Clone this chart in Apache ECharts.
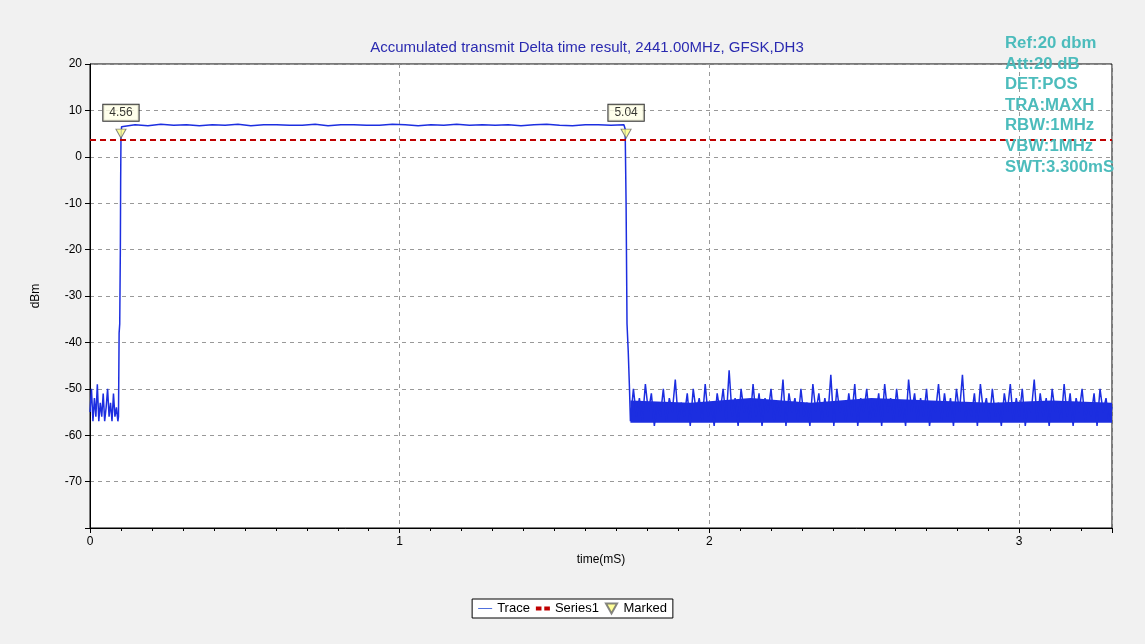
<!DOCTYPE html><html><head><meta charset="utf-8">
<script src="https://cdn.jsdelivr.net/npm/echarts@6/dist/echarts.min.js"></script>
<style>html,body{margin:0;background:#f1f1f1}#c{width:1145px;height:644px}</style></head><body><div id="c"></div>
<script>
const leftNoise=[-55,-50,-57,-52,-56,-49,-57,-53,-56,-51,-57,-54,-50,-56,-53,-57,-51,-56,-54,-57];
const rise=[[0.092,-56],[0.094,-38],[0.096,-36],[0.098,-20],[0.099,-5],[0.1,4],[0.102,6.5]];
const topVals=[6.8,6.9,6.7,7.0,6.8,6.9,6.7,6.9,6.8,7.0,6.7,6.9,6.9,6.8,6.8,7.0,6.7,6.9,6.9,6.8,6.8,7.0,6.9,6.7,6.9,6.8,7.0,6.8,6.9,6.8,6.9,6.7,6.9,7.0,6.8,6.7,6.9,6.9,6.8,6.9];
const fall=[[1.728,6],[1.731,-10],[1.734,-36],[1.738,-42],[1.742,-50]];
const rightNoise=[-57,-50,-56,-52,-57,-49,-55,-51,-58,-53,-56,-50,-57,-52,-55,-48,-57,-53,-56,-51,-58,-50,-55,-52,-57,-49,-56,-53,-58,-51,-55,-50,-57,-46,-56,-52,-58,-50,-55,-53,-57,-49,-56,-51,-58,-52,-55,-50,-57,-53,-56,-48,-58,-51,-55,-52,-57,-50,-56,-53,-58,-49,-55,-51,-57,-52,-56,-47,-58,-50,-55,-53,-57,-51,-56,-49,-58,-52,-55,-50,-57,-53,-56,-51,-58,-49,-55,-52,-57,-50,-56,-53,-58,-48,-55,-51,-57,-52,-56,-50,-58,-53,-55,-49,-57,-51,-56,-52,-58,-50,-55,-47,-57,-53,-56,-51,-58,-49,-55,-52,-57,-50,-56,-53,-58,-51,-55,-49,-57,-52,-56,-50,-58,-53,-55,-48,-57,-51,-56,-52,-58,-50,-55,-53,-57,-49,-56,-51,-58,-52,-55,-50,-57,-53,-56,-51,-58,-50,-55,-52,-57,-54];
const bandFloor=-57.3;
const bandHigh=[-52.5,-53,-52,-53,-52,-52.5,-53,-52.5,-53];
const refLevel=3.6;
const marks=[[0.1,5,'4.56'],[1.731,5,'5.04']];
const xTicks=[0,1,2,3];
const yTicks=[20,10,0,-10,-20,-30,-40,-50,-60,-70];
const infoLines=['Ref:20 dbm','Att:20 dB','DET:POS','TRA:MAXH','RBW:1MHz','VBW:1MHz','SWT:3.300mS'];

const trace=[];
leftNoise.forEach((v,i)=>trace.push([i*0.09/(leftNoise.length-1),v]));
rise.forEach(p=>trace.push(p));
topVals.forEach((v,i)=>trace.push([0.104+i*(1.724-0.104)/(topVals.length-1),v]));
fall.forEach(p=>trace.push(p));
rightNoise.forEach((v,i)=>trace.push([1.745+i*(3.3-1.745)/(rightNoise.length-1),v]));
const bandData=bandHigh.map((v,i)=>[1.745+i*(3.3-1.745)/(bandHigh.length-1),v]);

const ch=echarts.init(document.getElementById('c'));
ch.setOption({
  animation:false,
  title:{text:'Accumulated transmit Delta time result, 2441.00MHz, GFSK,DH3',left:582,top:35,textAlign:'center',
    textStyle:{color:'#2a2ab0',fontSize:15,fontWeight:'normal',fontFamily:'Arial'}},
  graphic:[{type:'text',left:1005,top:33,style:{text:infoLines.join('\n'),fill:'#4cbcbc',font:'bold 16.8px Arial',lineHeight:20.6},z:100}],
  grid:{left:90,right:33,top:64,bottom:116,show:true,borderColor:'#000',borderWidth:1,backgroundColor:'#fff'},
  legend:{bottom:26,left:'center',itemGap:6,padding:[3,6],borderColor:'#000',borderWidth:1,backgroundColor:'#fff',
    textStyle:{fontSize:13,color:'#000',fontFamily:'Arial'},itemWidth:14,itemHeight:10,
    data:[{name:'Trace',icon:'path://M0,5L14,5L14,6L0,6Z'},{name:'Series1',icon:'path://M0,4L4,4L4,7L0,7ZM6,4L10,4L10,7L6,7Z'},{name:'Marked',icon:'path://M0,0L10,0L5,9Z'}]},
  xAxis:{type:'value',min:0,max:3.3,interval:1,name:'time(mS)',nameLocation:'middle',nameGap:26,
    nameTextStyle:{fontSize:12,color:'#000'},axisLine:{onZero:false,lineStyle:{color:'#000'}},axisTick:{show:true,length:5},
    minorTick:{show:true,splitNumber:10,length:3},axisLabel:{color:'#000',fontSize:12,formatter:v=>xTicks.includes(v)?v:''},
    splitLine:{lineStyle:{color:'#999',type:[4,4]}}},
  yAxis:{type:'value',min:-80,max:20,interval:10,name:'dBm',nameLocation:'middle',nameGap:48,
    nameTextStyle:{fontSize:12,color:'#000'},axisLine:{show:true,onZero:false,lineStyle:{color:'#000'}},axisTick:{show:true,length:5},
    axisLabel:{color:'#000',fontSize:12,formatter:v=>yTicks.includes(v)?v:''},
    splitLine:{lineStyle:{color:'#999',type:[4,4]}}},
  series:[
    {name:'Trace',type:'line',data:bandData,showSymbol:false,lineStyle:{width:0},areaStyle:{color:'#1c2ee0',opacity:1,origin:bandFloor},silent:true},
    {name:'Trace',type:'line',data:trace,showSymbol:false,lineStyle:{color:'#1c2ee0',width:1.5},itemStyle:{color:'#1c2ee0'}},
    {name:'Series1',type:'line',data:[[0,refLevel],[3.3,refLevel]],showSymbol:false,lineStyle:{color:'#c00000',width:2,type:[6,4]},itemStyle:{color:'#c00000'}},
    {name:'Marked',type:'scatter',data:marks.map(m=>({value:[m[0],m[1]],label:{formatter:m[2]}})),symbol:'path://M0,0L10,0L5,9Z',symbolSize:[10,9],
      itemStyle:{color:'#ffff80',borderColor:'#666',borderWidth:1},
      label:{show:true,position:'top',distance:8,color:'#000',fontSize:12,backgroundColor:'#ffffe6',borderColor:'#000',borderWidth:1,padding:[2,6]},z:10}
  ]
});
</script></body></html>
